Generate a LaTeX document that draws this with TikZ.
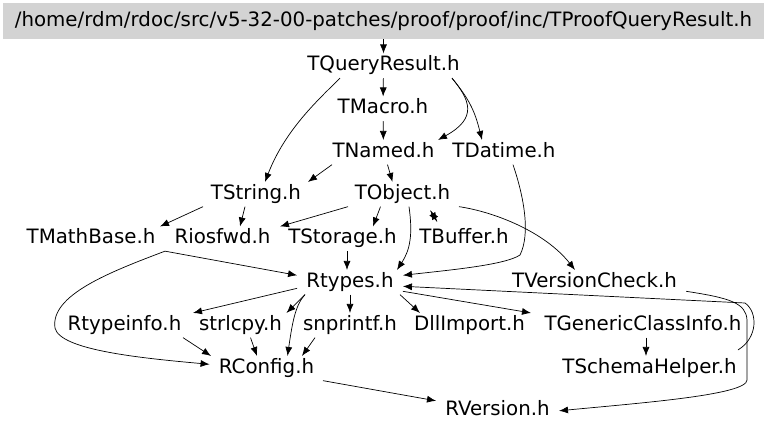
\documentclass[tikz,border=0pt]{standalone}
\usepackage{fontspec}
\setmainfont{DejaVu Sans}
\usepackage{tikz}
\usetikzlibrary{arrows.meta}
\definecolor{rootgray}{RGB}{211,211,211}
\tikzset{
  font={\fontsize{19.8pt}{22}\selectfont},
  >={Latex[length=9pt,width=7pt]}}

\begin{document}
\begin{tikzpicture}[x=1pt,y=1pt,line width=0.7pt]
\tikzstyle{every node}+=[inner xsep=9pt,inner ysep=2pt,text height=15pt,text depth=5pt]
\useasboundingbox (0,0) rectangle (768,-432);
\node [fill=rootgray,minimum width=761pt,minimum height=36pt] (root) at (383.5,-21) {/home/rdm/rdoc/src/v5-32-00-patches/proof/proof/inc/TProofQueryResult.h};
\node (tqr) at (383.5,-65.8) {TQueryResult.h};
\node (tmacro) at (383,-108.8) {TMacro.h};
\node (tnamed) at (383.5,-152.3) {TNamed.h};
\node (tdatime) at (504,-152.3) {TDatime.h};
\node (tstring) at (256,-194.3) {TString.h};
\node (tobject) at (402.5,-194.3) {TObject.h};
\node (tmathbase) at (91,-238.8) {TMathBase.h};
\node (riosfwd) at (222.5,-238.8) {Riosfwd.h};
\node (tstorage) at (342.5,-238.8) {TStorage.h};
\node (tbuffer) at (464,-238.8) {TBuffer.h};
\node (rtypes) at (350,-282.3) {Rtypes.h};
\node (tversion) at (594.5,-282.3) {TVersionCheck.h};
\node (rtypeinfo) at (124.5,-325.3) {Rtypeinfo.h};
\node (strlcpy) at (240.5,-325.3) {strlcpy.h};
\node (snprintf) at (350,-325.3) {snprintf.h};
\node (dllimport) at (469.5,-325.3) {DllImport.h};
\node (tgeneric) at (643,-325.3) {TGenericClassInfo.h};
\node (rconfig) at (266.5,-368.3) {RConfig.h};
\node (tschema) at (649.5,-368.3) {TSchemaHelper.h};
\node (rversion) at (497.5,-410.8) {RVersion.h};
\draw [black,->] (root) -- (tqr);
\draw [black,->] (tqr) -- (tmacro);
\draw [black,->] (tmacro) -- (tnamed);
\draw [black,->] ([xshift=-43.5pt]tqr.south) .. controls (318,-100) and (285,-130) .. ([xshift=9pt]tstring.north);
\draw [black,->] ([xshift=68.5pt]tqr.south) .. controls (470,-100) and (478,-118) .. ([xshift=54.5pt]tnamed.north);
\draw [black,->] ([xshift=68.5pt]tqr.south) .. controls (470,-100) and (475,-112) .. ([xshift=-22pt]tdatime.north);
\draw [black,->] ([xshift=-51.5pt]tnamed.south) -- ([xshift=52pt]tstring.north);
\draw [black,->] ([xshift=4pt]tnamed.south) -- ([xshift=-10pt]tobject.north);
\draw [black,->] ([xshift=-53pt]tstring.south) -- ([xshift=69pt]tmathbase.north);
\draw [black,->] ([xshift=-11pt]tstring.south) -- ([xshift=17.5pt]riosfwd.north);
\draw [black,->] ([xshift=-54.5pt]tobject.south) -- ([xshift=57.5pt]riosfwd.north);
\draw [black,->] ([xshift=-22pt]tobject.south) -- ([xshift=30.5pt]tstorage.north);
\draw [black,->] ([xshift=6.5pt]tobject.south) .. controls (413,-235) and (410,-250) .. ([xshift=47pt]rtypes.north);
\draw [black,->] ([xshift=28pt,yshift=-4pt]tobject.south) -- ([xshift=-27pt,yshift=5pt]tbuffer.north);
\draw [black,->] ([xshift=-27pt,yshift=5pt]tbuffer.north) -- ([xshift=28pt,yshift=-4pt]tobject.south);
\draw [black,->] ([xshift=56.5pt]tobject.south) .. controls (495,-212) and (545,-232) .. ([xshift=-19.5pt]tversion.north);
\draw [black,->] ([xshift=9pt]tdatime.south) .. controls (525,-200) and (530,-235) .. (520,-255) .. controls (505,-265) and (450,-270) .. ([yshift=7pt]rtypes.east);
\draw [black,->] ([xshift=74pt]tmathbase.south) -- ([yshift=7pt]rtypes.west);
\draw [black,->] ([xshift=74pt]tmathbase.south) .. controls (110,-272) and (50,-295) .. (55,-328) .. controls (60,-350) and (140,-358) .. ([yshift=4pt]rconfig.west);
\draw [black,->] ([xshift=4.5pt]tstorage.south) -- ([xshift=-3pt]rtypes.north);
\draw [black,->] ([yshift=-6pt]rtypes.west) -- ([xshift=68.5pt]rtypeinfo.north);
\draw [black,->] ([xshift=-45pt]rtypes.south) -- ([xshift=46pt]strlcpy.north);
\draw [black,->] (rtypes) -- (snprintf);
\draw [black,->] ([xshift=50pt]rtypes.south) -- ([xshift=-49.5pt]dllimport.north);
\draw [black,->] ([yshift=-9pt]rtypes.east) -- ([xshift=-112pt]tgeneric.north);
\draw [black,->] ([xshift=-45pt]rtypes.south) .. controls (295,-305) and (292,-325) .. ([xshift=21pt]rconfig.north);
\draw [black,->] ([xshift=58.5pt]rtypeinfo.south) -- ([xshift=-55.5pt]rconfig.north);
\draw [black,->] ([xshift=10pt]strlcpy.south) -- ([xshift=-9.5pt]rconfig.north);
\draw [black,->] ([xshift=-35pt]snprintf.south) -- ([xshift=35.5pt]rconfig.north);
\draw [black,->] ([xshift=56.5pt]rconfig.south) -- ([yshift=10pt]rversion.west);
\draw [black,->] ([xshift=3pt]tgeneric.south) -- ([xshift=-3.5pt]tschema.north);
\draw [black,->] ([yshift=-9pt]tversion.east) .. controls (730,-298) and (746,-303) .. (747,-320) -- (747,-380) .. controls (747,-395) and (640,-403) .. (rversion.east);
\draw [black,->] ([xshift=-8pt,yshift=6pt]tschema.north east) .. controls (758,-338) and (758,-312) .. (745,-303) -- ([yshift=-4pt]rtypes.east);
\end{tikzpicture}
\end{document}
